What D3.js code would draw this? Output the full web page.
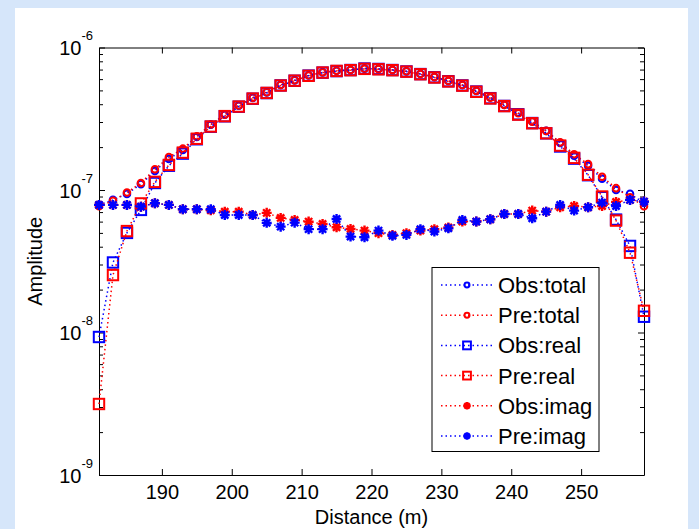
<!DOCTYPE html>
<html><head><meta charset="utf-8">
<script src="https://cdn.jsdelivr.net/npm/d3@7"></script>
<style>body{margin:0;}svg{display:block;font-family:"Liberation Sans",Arial,sans-serif;}</style>
</head><body>
<svg id="c" width="699" height="529"></svg>
<script>
const distance = [181,183,185,187,189,191,193,195,197,199,201,203,205,207,209,211,213,215,217,219,221,223,225,227,229,231,233,235,237,239,241,243,245,247,249,251,253,255,257,259];
const obsTotal = [7.86e-8,8.52e-8,9.39e-8,1.10e-7,1.36e-7,1.65e-7,1.91e-7,2.36e-7,2.87e-7,3.37e-7,3.90e-7,4.43e-7,4.84e-7,5.47e-7,5.88e-7,6.38e-7,6.69e-7,6.86e-7,6.97e-7,7.14e-7,7.09e-7,6.97e-7,6.81e-7,6.54e-7,6.22e-7,5.84e-7,5.47e-7,4.97e-7,4.47e-7,3.96e-7,3.48e-7,3.03e-7,2.60e-7,2.14e-7,1.74e-7,1.48e-7,1.20e-7,1.00e-7,9.39e-8,8.11e-8];
const preTotal = [7.70e-8,8.40e-8,9.60e-8,1.12e-7,1.40e-7,1.70e-7,1.95e-7,2.38e-7,2.88e-7,3.38e-7,3.92e-7,4.45e-7,4.86e-7,5.45e-7,5.90e-7,6.36e-7,6.70e-7,6.88e-7,6.95e-7,7.10e-7,7.05e-7,6.95e-7,6.80e-7,6.52e-7,6.20e-7,5.82e-7,5.45e-7,4.95e-7,4.45e-7,3.95e-7,3.46e-7,3.02e-7,2.60e-7,2.16e-7,1.78e-7,1.52e-7,1.24e-7,1.03e-7,8.90e-8,7.70e-8];
const obsReal = [9.30e-9,3.10e-8,5.00e-8,7.25e-8,1.12e-7,1.48e-7,1.80e-7,2.27e-7,2.78e-7,3.29e-7,3.84e-7,4.37e-7,4.79e-7,5.42e-7,5.84e-7,6.35e-7,6.66e-7,6.83e-7,6.95e-7,7.12e-7,7.07e-7,6.95e-7,6.79e-7,6.51e-7,6.18e-7,5.80e-7,5.42e-7,4.91e-7,4.41e-7,3.89e-7,3.40e-7,2.95e-7,2.50e-7,2.02e-7,1.66e-7,1.27e-7,8.90e-8,6.20e-8,4.05e-8,1.29e-8];
const preReal = [3.15e-9,2.53e-8,5.15e-8,8.05e-8,1.14e-7,1.50e-7,1.83e-7,2.29e-7,2.79e-7,3.30e-7,3.85e-7,4.38e-7,4.80e-7,5.41e-7,5.85e-7,6.33e-7,6.67e-7,6.85e-7,6.93e-7,7.08e-7,7.03e-7,6.93e-7,6.77e-7,6.49e-7,6.16e-7,5.78e-7,5.40e-7,4.89e-7,4.39e-7,3.88e-7,3.38e-7,2.94e-7,2.50e-7,2.05e-7,1.68e-7,1.28e-7,9.00e-8,6.10e-8,3.63e-8,1.42e-8];
const obsImag = [7.86e-8,7.86e-8,7.86e-8,7.64e-8,8.08e-8,7.86e-8,7.33e-8,7.33e-8,7.20e-8,7.05e-8,7.05e-8,6.68e-8,6.91e-8,6.37e-8,6.17e-8,6.00e-8,5.78e-8,5.48e-8,5.33e-8,5.19e-8,4.98e-8,4.84e-8,4.98e-8,5.19e-8,5.31e-8,5.46e-8,6.00e-8,6.00e-8,6.24e-8,6.79e-8,6.79e-8,7.17e-8,7.05e-8,7.57e-8,7.73e-8,7.57e-8,7.73e-8,8.25e-8,8.52e-8,8.29e-8];
const preImag = [7.86e-8,7.86e-8,7.86e-8,7.64e-8,8.08e-8,7.86e-8,7.33e-8,7.33e-8,7.33e-8,6.68e-8,6.68e-8,6.68e-8,5.88e-8,5.53e-8,5.90e-8,5.31e-8,5.31e-8,6.26e-8,4.71e-8,4.66e-8,5.19e-8,4.77e-8,4.84e-8,5.31e-8,5.12e-8,5.38e-8,6.17e-8,6.00e-8,6.24e-8,6.79e-8,6.79e-8,6.34e-8,7.05e-8,7.86e-8,7.17e-8,7.57e-8,8.16e-8,7.73e-8,8.52e-8,8.29e-8];
const xTicks = [190,200,210,220,230,240,250];
const yTickExp = [-9,-8,-7,-6];
const legendLabels = ["Obs:total","Pre:total","Obs:real","Pre:real","Obs:imag","Pre:imag"];

const series = [
  {name:legendLabels[0], values:obsTotal, color:"#0000ff", marker:"circle"},
  {name:legendLabels[1], values:preTotal, color:"#ff0000", marker:"circle"},
  {name:legendLabels[2], values:obsReal, color:"#0000ff", marker:"square"},
  {name:legendLabels[3], values:preReal, color:"#ff0000", marker:"square"},
  {name:legendLabels[4], values:obsImag, color:"#ff0000", marker:"star"},
  {name:legendLabels[5], values:preImag, color:"#0000ff", marker:"star"}
];

const svg = d3.select("#c");
svg.append("rect").attr("width",699).attr("height",529).attr("fill","#d6e6fa");
svg.append("rect").attr("x",15).attr("y",8).attr("width",673).attr("height",521).attr("fill","#ffffff");

const L=99, R=644, T=47.5, B=475;
const x = d3.scaleLinear().domain([181,259]).range([L,R]);
const y = d3.scaleLog().domain([1e-9,1e-6]).range([B,T]);

const minor = [];
for (let e=-9;e<-6;e++) for (let m=2;m<=9;m++) minor.push(m*Math.pow(10,e));
const majors = yTickExp.map(e=>Math.pow(10,e));

const axStyle = g => { g.selectAll("path").attr("stroke","#000").attr("stroke-width",1); g.selectAll("line").attr("stroke","#000").attr("stroke-width",1); };

const gxB = svg.append("g").attr("transform",`translate(0,${B})`).call(d3.axisBottom(x).tickValues(xTicks).tickSize(-6).tickSizeOuter(0).tickFormat(d3.format("d")));
gxB.call(axStyle);
gxB.selectAll("text").attr("y",24).attr("dy",0).attr("font-size",20).attr("fill","#000").attr("font-family","Liberation Sans, Arial, sans-serif");
const gxT = svg.append("g").attr("transform",`translate(0,${T})`).call(d3.axisTop(x).tickValues(xTicks).tickSize(-6).tickSizeOuter(0).tickFormat(""));
gxT.call(axStyle);

const gyL = svg.append("g").attr("transform",`translate(${L},0)`).call(d3.axisLeft(y).tickValues(majors).tickSize(-6).tickSizeOuter(0).tickFormat(""));
gyL.call(axStyle);
const gyLm = svg.append("g").attr("transform",`translate(${L},0)`).call(d3.axisLeft(y).tickValues(minor).tickSize(-4).tickSizeOuter(0).tickFormat(""));
gyLm.call(axStyle); gyLm.select("path").remove();
const gyR = svg.append("g").attr("transform",`translate(${R},0)`).call(d3.axisRight(y).tickValues(majors).tickSize(-6).tickSizeOuter(0).tickFormat(""));
gyR.call(axStyle);
const gyRm = svg.append("g").attr("transform",`translate(${R},0)`).call(d3.axisRight(y).tickValues(minor).tickSize(-4).tickSizeOuter(0).tickFormat(""));
gyRm.call(axStyle); gyRm.select("path").remove();

yTickExp.forEach(e=>{
  const t = svg.append("text").attr("x",L-6).attr("y",y(Math.pow(10,e))+7.5).attr("text-anchor","end").attr("fill","#000");
  t.append("tspan").attr("font-size",20).text("10");
  t.append("tspan").attr("font-size",13).attr("dy",-15).text(String(e));
});

svg.append("text").attr("x",(L+R)/2).attr("y",524).attr("text-anchor","middle").attr("font-size",20).attr("fill","#000").text("Distance (m)");
svg.append("text").attr("transform",`translate(42,${(T+B)/2}) rotate(-90)`).attr("text-anchor","middle").attr("font-size",20).attr("fill","#000").text("Amplitude");

function drawMarker(g, type, cx, cy, color, scale){
  if (type==="circle") {
    g.append("circle").attr("cx",cx).attr("cy",cy).attr("r",3.3*scale).attr("fill","none").attr("stroke",color).attr("stroke-width",2);
  } else if (type==="square") {
    const s=5.2*scale;
    g.append("rect").attr("x",cx-s).attr("y",cy-s).attr("width",2*s).attr("height",2*s).attr("fill","none").attr("stroke",color).attr("stroke-width",2);
  } else {
    const s=5*scale, d=s*0.72;
    g.append("path").attr("d",`M${cx-s},${cy}L${cx+s},${cy}M${cx},${cy-s}L${cx},${cy+s}M${cx-d},${cy-d}L${cx+d},${cy+d}M${cx-d},${cy+d}L${cx+d},${cy-d}`)
      .attr("stroke",color).attr("stroke-width",2.4).attr("fill","none");
  }
}

const line = d3.line().x((d,i)=>x(distance[i])).y(d=>y(d));
const plot = svg.append("g");
series.forEach(s=>{
  const g = plot.append("g");
  g.append("path").datum(s.values).attr("d",line).attr("fill","none").attr("stroke",s.color).attr("stroke-width",1.5).attr("stroke-dasharray","1.5,3");
  s.values.forEach((v,i)=>drawMarker(g,s.marker,x(distance[i]),y(v),s.color,1));
});

const lg = svg.append("g");
lg.append("rect").attr("x",432).attr("y",267.5).attr("width",167).attr("height",184).attr("fill","#fff").attr("stroke","#000").attr("stroke-width",1);
series.forEach((s,i)=>{
  const cy = 285 + i*30.2;
  lg.append("line").attr("x1",441).attr("x2",495).attr("y1",cy).attr("y2",cy).attr("stroke",s.color).attr("stroke-width",1.5).attr("stroke-dasharray","1.5,3");
  drawMarker(lg,s.marker,467,cy,s.color,0.75);
  lg.append("text").attr("x",498).attr("y",cy+8).attr("font-size",22).attr("fill","#000").text(s.name);
});
</script>
</body></html>
